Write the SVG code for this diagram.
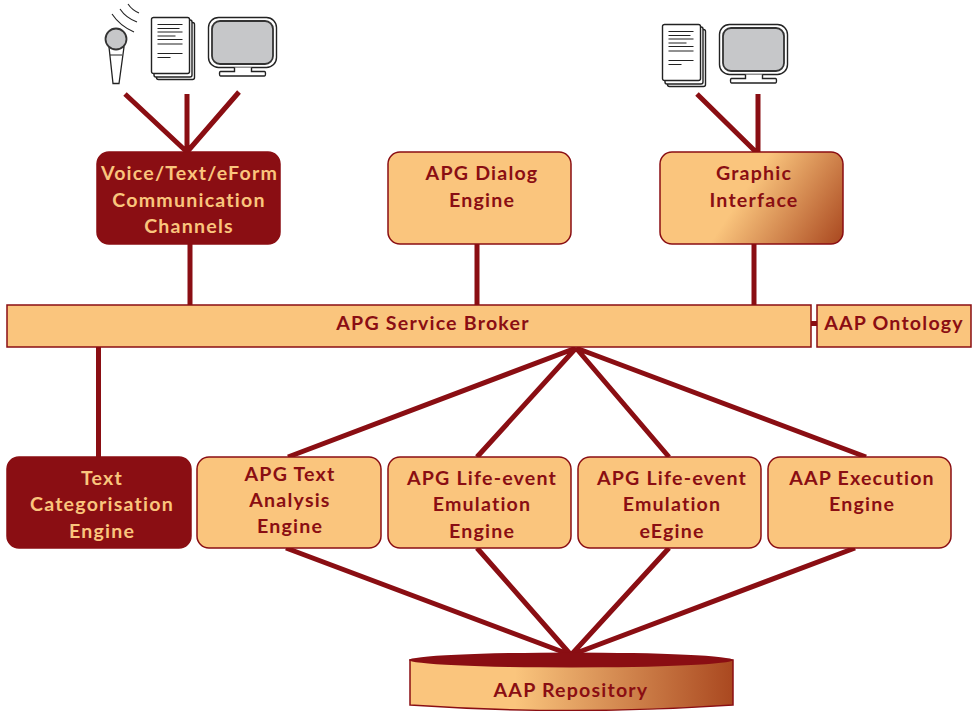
<svg xmlns="http://www.w3.org/2000/svg" width="979" height="711" viewBox="0 0 979 711">
<style>
text{font-family:"Lato","Open Sans","Liberation Sans",sans-serif;font-weight:700;font-size:19.6px;letter-spacing:1.2px;text-anchor:middle;fill:#8a0e13}
text.l{fill:#fac57d}
.n{fill:#fac57d;stroke:#8a0e13;stroke-width:1.5}
.d{fill:#8a0e13;stroke:#8a0e13;stroke-width:1.5}
.c{stroke:#8a0e13;stroke-width:5;fill:none}
.k{stroke:#222;fill:none}
.s{fill:#c6c7c9;stroke:#333;stroke-width:1.8}
.w{fill:#fff;stroke:#222;stroke-width:1.4}
</style>
<defs>
<linearGradient id="g1" gradientUnits="userSpaceOnUse" x1="740" y1="198" x2="833" y2="259"><stop offset="0" stop-color="#fac57d"/><stop offset="1" stop-color="#a9471f"/></linearGradient>
<linearGradient id="g2" gradientUnits="userSpaceOnUse" x1="515" y1="0" x2="735" y2="0"><stop offset="0" stop-color="#fac57d"/><stop offset="1" stop-color="#a9471f"/></linearGradient>
<g id="doc">
<rect class="w" x="5" y="5" width="38" height="57" rx="2" stroke-width="1.6"/>
<rect class="w" x="2.500" y="2.500" width="38" height="57" rx="2"/>
<rect class="w" x="0" y="0" width="38" height="56" rx="2"/>
<path class="k" stroke-width="1.2" d="M6 7H31M6 11H28M6 14.500H31M6 18.500H24M6 22H31M6 26.500H31M6 36H31M6 40H19"/>
</g>
<g id="mon">
<rect class="w" x="0" y="0" width="68" height="50" rx="10" stroke-width="1.5"/>
<rect class="s" x="3.500" y="3.500" width="61" height="43" rx="8"/>
<path class="w" d="M26 50V54H12Q11 54 11 56.500Q11 58.500 12 58.500H56Q57 58.500 57 56.500Q57 54 56 54H43V50"/>
</g>
</defs>
<g id="connectors" class="c">
<path d="M125 94 187 152M187 94V152M239 92 187 152"/>
<path d="M697 94 756 152M758 94V152"/>
<path d="M190 243V305M477 243V305M754 243V305M811 323.500H817M98.500 347V457"/>
<path d="M576 348 288 457M576 348 477 457M576 348 669 457M576 348 866 457"/>
<path d="M286 548 571 655M477 548 571 655M669 548 571 655M855 548 571 655"/>
</g>
<g id="icons-left">
<path class="k" stroke-width="1.1" d="M112 14Q120 26 134 32M120 9Q126 18 137 22M128 4Q132 10 139 13"/>
<path fill="#fff" stroke="#222" stroke-width="1.3" d="M109 47H124L119 83.500H113Z"/>
<path fill="none" stroke="#222" stroke-width="1" d="M110 55H122"/>
<circle cx="116" cy="39" r="10.500" fill="#c6c7c9" stroke="#333" stroke-width="1.800"/>
<use href="#doc" x="151.500" y="17.500"/>
<use href="#mon" x="208.500" y="17.500"/>
<use href="#doc" x="662.500" y="24.500"/>
<use href="#mon" x="719.500" y="24.500"/>
</g>
<g id="voice"><rect class="d" x="97" y="152" width="183" height="92" rx="12"/>
<text class="l" x="189.500" y="180">Voice/Text/eForm</text><text class="l" x="189" y="207">Communication</text><text class="l" x="189" y="233">Channels</text></g>
<g id="dialog"><rect class="n" x="388" y="152" width="183" height="92" rx="12"/>
<text x="482" y="180">APG Dialog</text><text x="482" y="207">Engine</text></g>
<g id="graphic"><rect x="660" y="152" width="183" height="92" rx="12" fill="url(#g1)" stroke="#8a0e13" stroke-width="1.500"/>
<text x="754" y="180">Graphic</text><text x="754" y="207">Interface</text></g>
<g id="broker"><rect class="n" x="7" y="305" width="804" height="42"/>
<text x="433" y="330">APG Service Broker</text></g>
<g id="ontology"><rect class="n" x="817" y="305" width="154" height="42"/>
<text x="894" y="330">AAP Ontology</text></g>
<g id="categorisation"><rect class="d" x="7" y="457" width="184" height="91" rx="12"/>
<text class="l" x="102" y="485">Text</text><text class="l" x="102" y="511">Categorisation</text><text class="l" x="102" y="538">Engine</text></g>
<g id="analysis"><rect class="n" x="197" y="457" width="184" height="91" rx="12"/>
<text x="290" y="481">APG Text</text><text x="290" y="507">Analysis</text><text x="290" y="533">Engine</text></g>
<g id="life1"><rect class="n" x="388" y="457" width="183" height="91" rx="12"/>
<text x="482" y="485">APG Life-event</text><text x="482" y="511">Emulation</text><text x="482" y="538">Engine</text></g>
<g id="life2"><rect class="n" x="578" y="457" width="183" height="91" rx="12"/>
<text x="672" y="485">APG Life-event</text><text x="672" y="511">Emulation</text><text x="672" y="538">eEgine</text></g>
<g id="execution"><rect class="n" x="768" y="457" width="183" height="91" rx="12"/>
<text x="862" y="485">AAP Execution</text><text x="862" y="511">Engine</text></g>
<g id="repository">
<path d="M410 660V705Q571 716 733 705V660Z" fill="url(#g2)" stroke="#8a0e13" stroke-width="1.500"/>
<ellipse cx="571" cy="660" rx="162" ry="7.500" fill="#8a0e13"/>
<text x="571" y="697">AAP Repository</text></g>
</svg>
